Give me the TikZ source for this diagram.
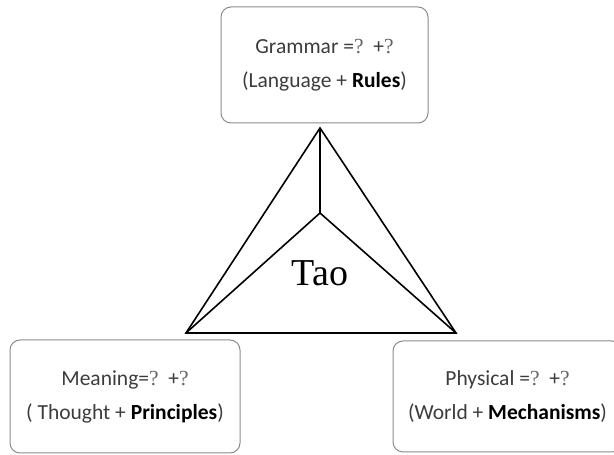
\documentclass[tikz,border=0pt]{standalone}
\usepackage{fontspec}
\setmainfont{Carlito}
\newfontfamily\taofont{Liberation Serif}
\definecolor{boxline}{RGB}{140,140,140}
\definecolor{softtext}{RGB}{60,60,60}
\definecolor{qmgray}{RGB}{100,100,100}
\newcommand{\qmark}{{\taofont\color{qmgray}?}}
\tikzset{
  conceptbox/.style={draw=boxline, line width=1pt, rounded corners=10pt, align=center,
    text=softtext, font=\fontsize{21.5}{34}\selectfont, inner sep=0pt},
  taoline/.style={line width=1.6pt, black}
}

\begin{document}
\begin{tikzpicture}[x=1pt, y=1pt]
            \useasboundingbox (0,0) rectangle (614,455);
            % Boxes
            \node[conceptbox, minimum width=207pt, minimum height=116pt] (grammar) at (324.5,390)
              {Grammar =\qmark\ \ +\qmark\\(Language + \textbf{\color{black}Rules})};
            \node[conceptbox, minimum width=230pt, minimum height=113pt] (meaning) at (125,58.5)
              {Meaning=\qmark\ \ +\qmark\\( Thought + \textbf{\color{black}Principles})};
            \node[conceptbox, minimum width=229pt, minimum height=111pt] (physical) at (507.5,58.5)
              {Physical =\qmark\ \ +\qmark\\(World + \textbf{\color{black}Mechanisms})};
            % Triangle
            \coordinate (apex) at (320,327);
            \coordinate (left) at (186,122);
            \coordinate (right) at (456,122);
            \coordinate (centre) at (320,242);
            \draw[taoline, line join=miter] (apex) -- (left) -- (right) -- cycle;
            \draw[taoline] (apex) -- (centre);
            \draw[taoline] (left) -- (centre) -- (right);
            \node[font=\taofont\fontsize{38}{38}\selectfont] (tao) at (320,182) {Tao};
        \end{tikzpicture}
\end{document}
